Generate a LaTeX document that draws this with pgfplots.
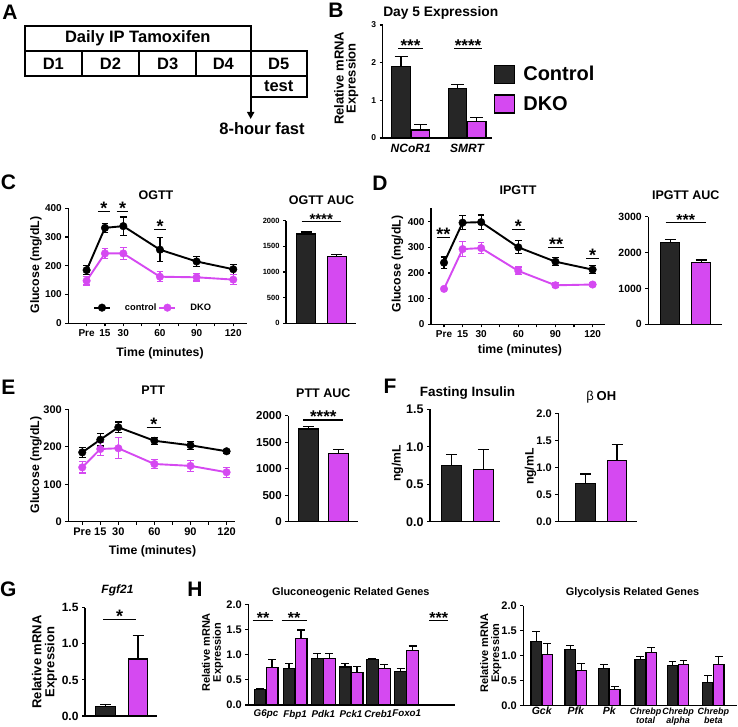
\documentclass[border=0pt]{standalone}
\usepackage{fontspec}
\setmainfont{Liberation Sans}
\usepackage{pgfplots}
\usetikzlibrary{arrows.meta}
\pgfplotsset{compat=1.18}
\definecolor{ctrl}{RGB}{38,38,38}
\definecolor{dko}{RGB}{213,73,241}
\newcommand{\fs}[1]{\fontsize{#1}{#1}\selectfont\bfseries}
\newcommand{\fsb}[2]{\fontsize{#1}{#2}\selectfont\bfseries}
\newcommand{\chr}[1]{\fsb{9}{8}\itshape\begin{tabular}[t]{@{}c@{}}Chrebp\\#1\end{tabular}}
\pgfplotsset{
  prism/.style={scale only axis, anchor=south west,
    axis lines=left, axis line style={-, line width=1.1pt, black},
    tick align=outside, major tick length=3pt,
    tick style={black, line width=1.1pt},
    /pgf/number format/assume math mode=true,
    /pgf/number format/set thousands separator={},
    scaled y ticks=false, clip=false, ymin=0},
  barax/.style={prism, xmin=0, xtick=\empty},
  dec/.style={yticklabel style={/pgf/number format/fixed, /pgf/number format/fixed zerofill, /pgf/number format/precision=1}},
  cb/.style={ybar, bar shift=0pt, fill=ctrl, draw=black, line width=1.2pt,
    error bars/y dir=plus, error bars/y explicit,
    error bars/error bar style={line width=1.2pt, black},
    error bars/error mark options={rotate=90, black, line width=1.2pt, mark size=#1}},
  cb/.default=5pt,
  db/.style={cb=#1, fill=dko},
  db/.default=5pt,
  ln/.style={color=#1, line width=1.9pt, mark=*, mark size=3.8pt,
    mark options={solid, fill=#1, line width=0.4pt},
    error bars/y dir=both, error bars/y explicit,
    error bars/error bar style={line width=1.2pt, #1},
    error bars/error mark options={rotate=90, #1, line width=1.2pt, mark size=3.3pt}},
  sq/.style={legend image code/.code={\draw[##1, draw=black, line width=1.3pt] (0pt,-9pt) rectangle (20pt,9pt); \path (26pt,0pt);}},
}
\begin{document}
\begin{tikzpicture}
\path[use as bounding box] (0pt,0pt) rectangle (738pt,726pt);

% ---------------- Panel B ----------------
\begin{axis}[barax, at={(382.7pt,588pt)}, width=109pt, height=113pt, xmax=109, ymax=3, ytick={0,1,2,3},
  yticklabel style={font=\fs{8.5}},
  xtick={28,84.4}, xticklabels={NCoR1,SMRT}, xtick style={draw=none}, xticklabel style={font=\fs{12}\itshape},
  legend cell align=left,
  legend style={draw=none, fill=none, at={(1.02,0.655)}, anchor=north west, font=\fs{20}, row sep=10pt, inner sep=0pt}]
\addplot[cb=6.5pt, bar width=18.4, sq] coordinates {(18.3,1.89) +- (0,0.28)};
\addlegendentry{Control}
\addplot[db=6.5pt, bar width=18.4, sq] coordinates {(37.8,0.21) +- (0,0.15)};
\addlegendentry{DKO}
\addplot[cb=6.5pt, bar width=18.4, forget plot] coordinates {(74.8,1.32) +- (0,0.10)};
\addplot[db=6.5pt, bar width=18.4, forget plot] coordinates {(94,0.43) +- (0,0.11)};
\draw[line width=1.1pt] (axis cs:15.3,2.38) -- (axis cs:40.3,2.38);
\node[font=\fs{17}, anchor=base, yshift=-3pt] at (axis cs:27.8,2.38) {***};
\draw[line width=1.1pt] (axis cs:71.3,2.38) -- (axis cs:99.3,2.38);
\node[font=\fs{17}, anchor=base, yshift=-3pt] at (axis cs:85.3,2.38) {****};
\end{axis}

% ---------------- Panel C ----------------
\begin{axis}[prism, at={(68.3pt,402.7pt)}, width=178.4pt, height=115pt, xmin=-15, xmax=131, ymax=400,
  xtick={0,15,...,120}, xticklabels={Pre,15,30,,60,,90,,120}, ytick={0,100,...,400},
  tick label style={font=\fs{10}},
  legend columns=2, legend style={draw=none, fill=none, at={(0.475,0.136)}, anchor=center, font=\fs{9.3}, /tikz/every odd column/.append style={column sep=12pt}},
  legend image code/.code={\draw[mark repeat=2,mark phase=2,#1] plot coordinates {(0pt,0pt) (8pt,0pt) (16pt,0pt)};}]
\addplot[ln=black] table[x=t,y=m,y error=e] {
t m e
0 185 15
15 332 16
30 338 32
60 256 42
90 215 17
120 188 17
};
\addlegendentry{control}
\addplot[ln=dko] table[x=t,y=m,y error=e] {
t m e
0 148 15
15 243 18
30 243 22
60 162 17
90 160 13
120 152 17
};
\addlegendentry{DKO}
\draw[line width=1.1pt] (axis cs:9.3,388) -- (axis cs:19.1,388);
\node[font=\fs{18}, anchor=base, yshift=-3pt] at (axis cs:14.2,388) {*};
\draw[line width=1.1pt] (axis cs:24.6,388) -- (axis cs:34.1,388);
\node[font=\fs{18}, anchor=base, yshift=-3pt] at (axis cs:29.4,388) {*};
\draw[line width=1.1pt] (axis cs:55.4,327) -- (axis cs:65,327);
\node[font=\fs{18}, anchor=base, yshift=-3pt] at (axis cs:60.2,327) {*};
\end{axis}

% ---------------- Panel C AUC ----------------
\begin{axis}[barax, at={(286pt,402.7pt)}, width=70pt, height=102.6pt, xmax=70, ymax=2000, ytick={0,500,...,2000},
  tick label style={font=\fs{7.5}}]
\addplot[cb=5.5pt, bar width=19] coordinates {(20.35,1740) +- (0,40)};
\addplot[db=5.5pt, bar width=19] coordinates {(50.65,1298) +- (0,42)};
\draw[line width=1.1pt] (axis cs:15.7,1980) -- (axis cs:54.7,1980);
\node[font=\fs{15}, anchor=base, yshift=-3pt] at (axis cs:35.2,1980) {****};
\end{axis}

% ---------------- Panel D ----------------
\begin{axis}[prism, at={(431pt,401.7pt)}, width=174pt, height=116pt, xmin=-10.5, xmax=130, ymax=452,
  xtick={0,15,...,120}, xticklabels={Pre,15,30,,60,,90,,120}, ytick={0,100,...,400},
  tick label style={font=\fs{10}}]
\addplot[ln=black] table[x=t,y=m,y error=e] {
t m e
0 240 22
15 396 27
30 398 28
60 300 25
90 244 15
120 213 15
};
\addplot[ln=dko] table[x=t,y=m,y error=e] {
t m e
0 138 5
15 293 30
30 297 22
60 208 15
90 152 10
120 155 8
};
\draw[line width=1.1pt] (axis cs:-5.9,338) -- (axis cs:4.8,338);
\node[font=\fs{18}, anchor=base, yshift=-3pt] at (axis cs:-0.5,338) {**};
\draw[line width=1.1pt] (axis cs:54.7,370) -- (axis cs:65.4,370);
\node[font=\fs{18}, anchor=base, yshift=-3pt] at (axis cs:60,370) {*};
\draw[line width=1.1pt] (axis cs:84.2,300) -- (axis cs:96.9,300);
\node[font=\fs{18}, anchor=base, yshift=-3pt] at (axis cs:90.5,300) {**};
\draw[line width=1.1pt] (axis cs:114.7,257) -- (axis cs:125.4,257);
\node[font=\fs{18}, anchor=base, yshift=-3pt] at (axis cs:120,257) {*};
\end{axis}

% ---------------- Panel D AUC ----------------
\begin{axis}[barax, at={(648.3pt,401.7pt)}, width=73.4pt, height=107.6pt, xmax=73.4, ymax=3000, ytick={0,1000,2000,3000},
  tick label style={font=\fs{10.5}}]
\addplot[cb=5.5pt, bar width=19] coordinates {(22,2275) +- (0,95)};
\addplot[db=5.5pt, bar width=19] coordinates {(52.9,1727) +- (0,63)};
\draw[line width=1.1pt] (axis cs:17.4,2844) -- (axis cs:57.4,2844);
\node[font=\fs{16}, anchor=base, yshift=-3pt] at (axis cs:37.4,2844) {***};
\end{axis}

% ---------------- Panel E ----------------
\begin{axis}[prism, at={(68.3pt,204.3pt)}, width=166.7pt, height=112.4pt, xmin=-11.6, xmax=127, ymax=300,
  xtick={0,15,...,120}, xticklabels={Pre,15,30,,60,,90,,120}, ytick={0,100,200,300},
  tick label style={font=\fs{11}}]
\addplot[ln=black] table[x=t,y=m,y error=e] {
t m e
0 185 14
15 219 17
30 252 14
60 216 9
90 204 11
120 188 5
};
\addplot[ln=dko] table[x=t,y=m,y error=e] {
t m e
0 145 15
15 194 18
30 196 28
60 154 13
90 149 14
120 132 13
};
\draw[line width=1.1pt] (axis cs:53.5,251) -- (axis cs:65.4,251);
\node[font=\fs{18}, anchor=base, yshift=-3pt] at (axis cs:59.5,251) {*};
\end{axis}

% ---------------- Panel E AUC ----------------
\begin{axis}[barax, at={(288.3pt,204.3pt)}, width=70pt, height=106pt, xmax=70, ymax=2000, ytick={0,500,...,2000},
  tick label style={font=\fs{11.5}}]
\addplot[cb=5.5pt, bar width=19.7] coordinates {(20,1750) +- (0,42)};
\addplot[db=5.5pt, bar width=19.7] coordinates {(50.35,1290) +- (0,68)};
\draw[line width=1.1pt] (axis cs:15,1919) -- (axis cs:55,1919);
\node[font=\fs{17}, anchor=base, yshift=-3pt] at (axis cs:35,1919) {****};
\end{axis}

% ---------------- Panel F1 ----------------
\begin{axis}[barax, dec, at={(430pt,204.3pt)}, width=70pt, height=112.4pt, xmax=70, ymax=1.5, ytick={0,0.5,1,1.5},
  tick label style={font=\fs{12.5}}]
\addplot[cb=5.5pt, bar width=20.3] coordinates {(21.35,0.75) +- (0,0.15)};
\addplot[db=5.5pt, bar width=20.3] coordinates {(53.3,0.70) +- (0,0.26)};
\end{axis}

% ---------------- Panel F2 ----------------
\begin{axis}[barax, dec, at={(558.3pt,204.3pt)}, width=78.4pt, height=108.4pt, xmax=78.4, ymax=2, ytick={0,0.5,1,1.5,2},
  tick label style={font=\fs{11}}]
\addplot[cb=5.5pt, bar width=19.7] coordinates {(27.4,0.71) +- (0,0.17)};
\addplot[db=5.5pt, bar width=19.7] coordinates {(58.7,1.13) +- (0,0.30)};
\end{axis}

% ---------------- Panel G ----------------
\begin{axis}[barax, dec, at={(85pt,10pt)}, width=71.7pt, height=108.3pt, xmax=71.7, ymax=1.5, ytick={0,0.5,1,1.5},
  tick label style={font=\fs{12}}]
\addplot[cb=5.5pt, bar width=19.7] coordinates {(20.7,0.13) +- (0,0.03)};
\addplot[db=5.5pt, bar width=19.7] coordinates {(53,0.79) +- (0,0.33)};
\draw[line width=1.1pt] (axis cs:18.3,1.34) -- (axis cs:51,1.34);
\node[font=\fs{18}, anchor=base, yshift=-3pt] at (axis cs:34.6,1.34) {*};
\end{axis}

% ---------------- Panel H1 ----------------
\begin{axis}[barax, dec, at={(248.3pt,21pt)}, width=206.7pt, height=100.7pt, xmax=206.7, ymax=2, ytick={0,0.5,1,1.5,2},
  yticklabel style={font=\fs{11}},
  xtick={17.7,46.7,75,102.7,130,158.4}, xticklabels={G6pc,Fbp1,Pdk1,Pck1,Creb1,Foxo1}, xtick style={draw=none},
  xticklabel style={font=\fs{9.8}\itshape, yshift=1.5pt}]
\addplot[cb=4pt, bar width=11.8] table[x=x,y=y,y error=e] {
x y e
11.7 0.30 0.03
40.7 0.73 0.09
69 0.92 0.11
96.7 0.755 0.065
124 0.91 0.02
152.4 0.66 0.06
};
\addplot[db=4pt, bar width=11.8] table[x=x,y=y,y error=e] {
x y e
23.7 0.75 0.16
52.7 1.32 0.17
81 0.93 0.10
108.7 0.65 0.11
136 0.73 0.08
164.4 1.08 0.09
};
\draw[line width=1.1pt] (axis cs:4.4,1.67) -- (axis cs:25,1.67);
\node[font=\fs{16}, anchor=base, yshift=-3pt] at (axis cs:14.7,1.67) {**};
\draw[line width=1.1pt] (axis cs:33.4,1.67) -- (axis cs:58.4,1.67);
\node[font=\fs{16}, anchor=base, yshift=-3pt] at (axis cs:45.9,1.67) {**};
\draw[line width=1.1pt] (axis cs:181,1.67) -- (axis cs:200,1.67);
\node[font=\fs{16}, anchor=base, yshift=-3pt] at (axis cs:190.5,1.67) {***};
\end{axis}

% ---------------- Panel H2 ----------------
\begin{axis}[barax, dec, at={(523.3pt,20.3pt)}, width=213.7pt, height=100pt, xmax=213.7, ymax=2, ytick={0,0.5,1,1.5,2},
  yticklabel style={font=\fs{11}},
  xtick={18.4,52.4,86,122.4,154.7,190}, xtick style={draw=none},
  xticklabels={Gck,Pfk,Pk,{\chr{total}},{\chr{alpha}},{\chr{beta}}},
  xticklabel style={font=\fs{10.5}\itshape, anchor=base, inner ysep=0pt, yshift=-5.5pt}]
\addplot[cb=3.8pt, bar width=10.3] table[x=x,y=y,y error=e] {
x y e
12.9 1.29 0.20
46.9 1.13 0.07
80.5 0.75 0.08
116.9 0.93 0.06
149.2 0.81 0.08
184.5 0.47 0.14
};
\addplot[db=3.8pt, bar width=10.3] table[x=x,y=y,y error=e] {
x y e
23.9 1.03 0.22
57.9 0.71 0.14
91.5 0.33 0.05
127.9 1.07 0.10
160.2 0.83 0.08
195.5 0.83 0.16
};
\end{axis}

% ---------------- Panel A and text ----------------
\begin{scope}[x=1pt,y=-1pt,yshift=726pt]
\draw[line width=1.7pt] (25,26) rectangle (250.7,76);
\draw[line width=1.7pt] (25,50.7) -- (250.7,50.7);
\draw[line width=1.7pt] (81.7,50.7) -- (81.7,76) (139.3,50.7) -- (139.3,76) (196,50.7) -- (196,76);
\draw[line width=1.7pt] (250.7,50.7) rectangle (306.7,97);
\draw[line width=1.7pt] (250.7,76) -- (306.7,76);
\draw[line width=1.7pt, -{Triangle[length=7pt,width=7pt]}] (250.7,76) -- (250.7,119);
\node[font=\fs{16.5}] at (137.8,38.5) {Daily IP Tamoxifen};
\node[font=\fs{16.5}] at (53.3,63.5) {D1};
\node[font=\fs{16.5}] at (110.5,63.5) {D2};
\node[font=\fs{16.5}] at (167.7,63.5) {D3};
\node[font=\fs{16.5}] at (223.3,63.5) {D4};
\node[font=\fs{16.5}] at (278.7,63.5) {D5};
\node[font=\fs{16.5}] at (278.7,86.5) {test};
\node[font=\fs{16.5}] at (262,129) {8-hour fast};
% panel letters
\node[font=\fs{21}] at (10,12) {A};
\node[font=\fs{21}] at (336,10) {B};
\node[font=\fs{21}] at (8.5,182.5) {C};
\node[font=\fs{21}] at (380,183) {D};
\node[font=\fs{21}] at (8.3,387.5) {E};
\node[font=\fs{21}] at (390,386.5) {F};
\node[font=\fs{21}] at (8.3,589) {G};
\node[font=\fs{21}] at (195,589) {H};
% titles
\node[font=\fs{13.8}] at (440.8,13) {Day 5 Expression};
\node[font=\fs{12.5}] at (156,195) {OGTT};
\node[font=\fs{12.5}] at (321.5,200) {OGTT AUC};
\node[font=\fs{12.5}] at (518,190) {IPGTT};
\node[font=\fs{12.5}] at (685.7,195) {IPGTT AUC};
\node[font=\fs{12.5}] at (153.3,390) {PTT};
\node[font=\fs{12.5}] at (323.3,393) {PTT AUC};
\node[font=\fs{13.5}] at (467.5,393) {Fasting Insulin};
\node at (601.3,397.5) {{\fontsize{13}{13}\selectfont β} {\fs{13}OH}};
\node[font=\fs{12}\itshape] at (117.5,590) {Fgf21};
\node[font=\fs{10.9}] at (350.8,592.5) {Gluconeogenic Related Genes};
\node[font=\fs{10.9}] at (632.5,593) {Glycolysis Related Genes};
% axis labels
\node[font=\fsb{13}{12}, rotate=90, align=center] at (346.3,78.3) {Relative mRNA\\Expression};
\node[font=\fs{12.3}, rotate=90] at (36,265) {Glucose (mg/dL)};
\node[font=\fs{12.3}] at (160,353.3) {Time (minutes)};
\node[font=\fs{12.3}, rotate=90] at (397.5,264) {Glucose (mg/dL)};
\node[font=\fs{12.3}] at (520,350) {time (minutes)};
\node[font=\fs{12.3}, rotate=90] at (36,465) {Glucose (mg/dL)};
\node[font=\fs{12.3}] at (152.5,551) {Time (minutes)};
\node[font=\fs{12.2}, rotate=90] at (397.5,463.3) {ng/mL};
\node[font=\fs{12.2}, rotate=90] at (530.5,466.7) {ng/mL};
\node[font=\fsb{13}{13}, rotate=90, align=center] at (44.5,662) {Relative mRNA\\Expression};
\node[font=\fsb{11}{11}, rotate=90, align=center] at (212.5,652.5) {Relative mRNA\\Expression};
\node[font=\fsb{11}{11}, rotate=90, align=center] at (490.8,653) {Relative mRNA\\Expression};
\end{scope}
\end{tikzpicture}
\end{document}
